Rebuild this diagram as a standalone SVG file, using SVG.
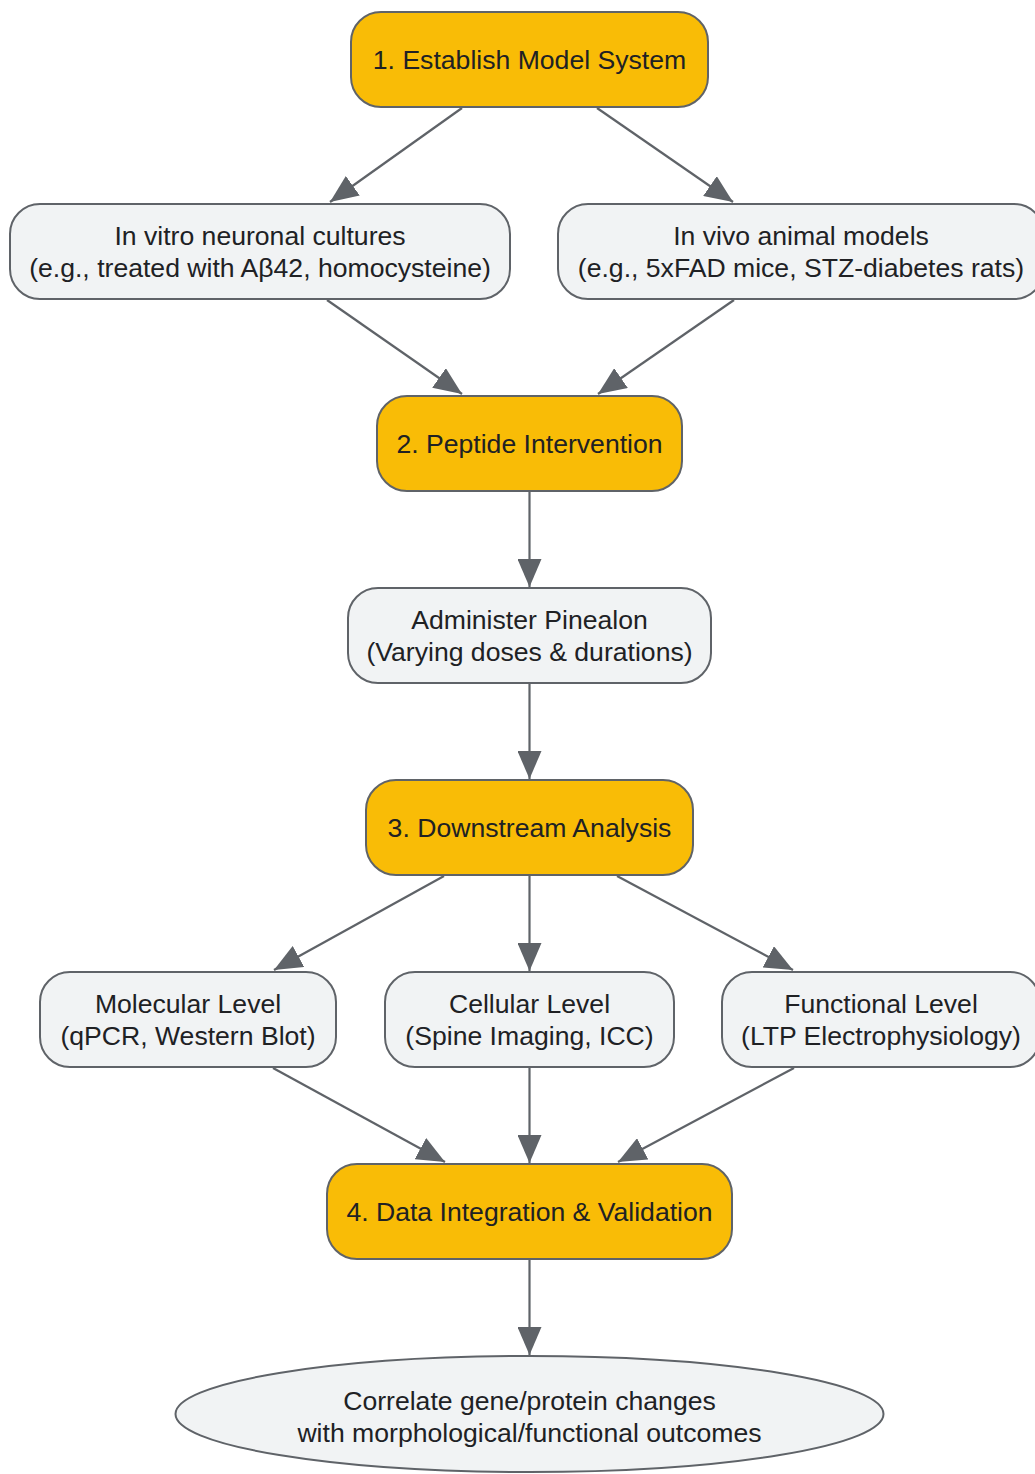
<svg xmlns="http://www.w3.org/2000/svg" width="1035" height="1474" viewBox="0 0 1035 1474">
<style>
.phase rect{fill:#F9BC06;stroke:#5f6368;stroke-width:2}
.step rect,.step ellipse{fill:#F1F3F4;stroke:#5f6368;stroke-width:2}
text{font-family:"Liberation Sans",Arial,sans-serif;font-size:26.6px;fill:#202124;text-anchor:middle;dominant-baseline:central}
.edges path{stroke:#5f6368;stroke-width:2.2;fill:none;marker-end:url(#ah)}
</style>
<defs>
<marker id="ah" viewBox="0 0 28 24" refX="28" refY="12" markerWidth="28" markerHeight="24" markerUnits="userSpaceOnUse" orient="auto">
<path d="M0,0 L28,12 L0,24 z" fill="#5f6368"/>
</marker>
</defs>
<rect width="1035" height="1474" fill="#ffffff"/>
<g class="edges">
<path d="M462,108 L330,202"/>
<path d="M597,108 L733,202"/>
<path d="M327,300 L462,394"/>
<path d="M734,300 L598,394"/>
<path d="M529.5,492 L529.5,587"/>
<path d="M529.5,684 L529.5,779"/>
<path d="M444,876 L274,970"/>
<path d="M529.5,876 L529.5,971"/>
<path d="M617,876 L793,970"/>
<path d="M273,1068 L445,1162"/>
<path d="M529.5,1068 L529.5,1163"/>
<path d="M794,1068 L618,1162"/>
<path d="M529.5,1260 L529.5,1355"/>
</g>
<g id="n1" class="phase"><rect x="351" y="12" width="357" height="95" rx="30"/><text x="529.5" y="59.5">1. Establish Model System</text></g>
<g id="n_invitro" class="step"><rect x="10" y="204" width="500" height="95" rx="30"/><text x="260" y="235.5">In vitro neuronal cultures</text><text x="260" y="267.5">(e.g., treated with Aβ42, homocysteine)</text></g>
<g id="n_invivo" class="step"><rect x="558" y="204" width="486" height="95" rx="30"/><text x="801" y="235.5">In vivo animal models</text><text x="801" y="267.5">(e.g., 5xFAD mice, STZ-diabetes rats)</text></g>
<g id="n2" class="phase"><rect x="377" y="396" width="305" height="95" rx="30"/><text x="529.5" y="443.5">2. Peptide Intervention</text></g>
<g id="n_admin" class="step"><rect x="348" y="588" width="363" height="95" rx="30"/><text x="529.5" y="619.5">Administer Pinealon</text><text x="529.5" y="651.5">(Varying doses &amp; durations)</text></g>
<g id="n3" class="phase"><rect x="366" y="780" width="327" height="95" rx="30"/><text x="529.5" y="827.5">3. Downstream Analysis</text></g>
<g id="n_mol" class="step"><rect x="40" y="972" width="296" height="95" rx="30"/><text x="188" y="1003.5">Molecular Level</text><text x="188" y="1035.5">(qPCR, Western Blot)</text></g>
<g id="n_cell" class="step"><rect x="385" y="972" width="289" height="95" rx="30"/><text x="529.5" y="1003.5">Cellular Level</text><text x="529.5" y="1035.5">(Spine Imaging, ICC)</text></g>
<g id="n_func" class="step"><rect x="722" y="972" width="318" height="95" rx="30"/><text x="881" y="1003.5">Functional Level</text><text x="881" y="1035.5">(LTP Electrophysiology)</text></g>
<g id="n4" class="phase"><rect x="327" y="1164" width="405" height="95" rx="30"/><text x="529.5" y="1211.5">4. Data Integration &amp; Validation</text></g>
<g id="n_corr" class="step"><ellipse cx="529.5" cy="1414" rx="354" ry="58"/><text x="529.5" y="1400.5">Correlate gene/protein changes</text><text x="529.5" y="1432.5">with morphological/functional outcomes</text></g>
</svg>
